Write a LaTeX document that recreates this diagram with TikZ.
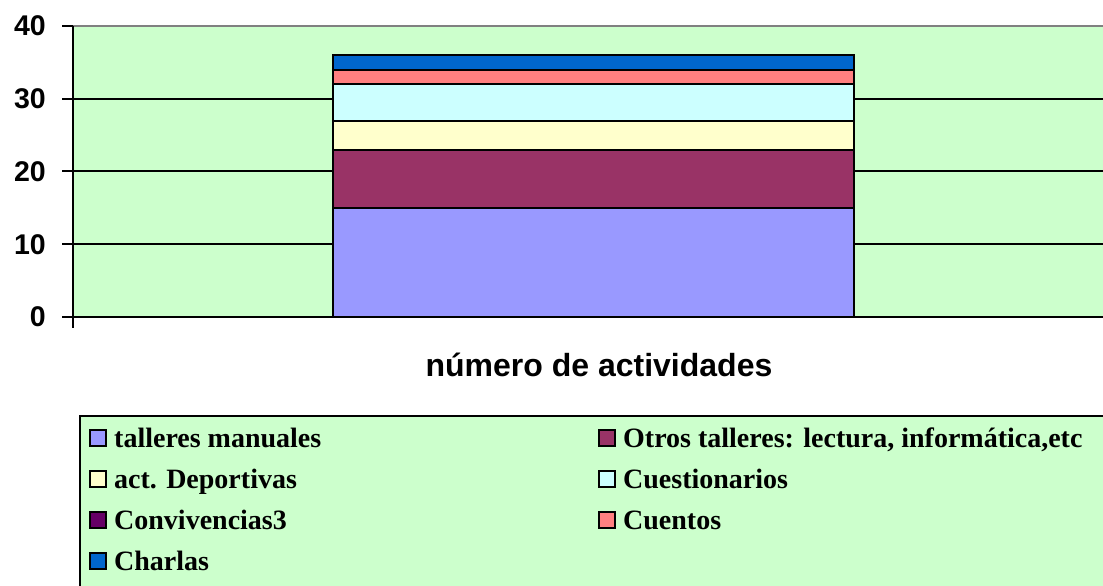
\documentclass[tikz,border=0pt]{standalone}
\usepackage{fontspec}
\setmainfont{Liberation Serif}
\newfontfamily\axisfont{Liberation Sans}
\definecolor{plotgreen}{HTML}{CCFFCC}
\definecolor{cTaller}{HTML}{9999FF}
\definecolor{cOtros}{HTML}{993366}
\definecolor{cDep}{HTML}{FFFFCC}
\definecolor{cCuest}{HTML}{CCFFFF}
\definecolor{cConv}{HTML}{660066}
\definecolor{cCuent}{HTML}{FF8080}
\definecolor{cCharl}{HTML}{0066CC}
\tikzset{
  seg/.style={draw=black,line width=2pt},
  grid line/.style={draw=black,line width=2pt},
  ylab/.style={font=\axisfont\bfseries\fontsize{28.5}{28.5}\selectfont,anchor=east,inner sep=0pt},
  legsq/.style={draw=black,line width=2pt,minimum width=16pt,minimum height=16pt,inner sep=0pt,anchor=south west},
  legtxt/.style={font=\bfseries\fontsize{28}{28}\selectfont,anchor=base west,inner sep=0pt},
}
\begin{document}
\begin{tikzpicture}[x=1pt,y=1pt]
\useasboundingbox (0,0) rectangle (1103,586);
\clip (0,0) rectangle (1103,586);
\fill[white] (0,0) rectangle (1103,586);
% plot area
\fill[plotgreen] (73,269) rectangle (1110,560);
\draw[gray,line width=2pt] (73,560) -- (1110,560);
\begin{scope}[yshift=269pt,y=7.275pt]
  \foreach \v in {10,20,30} \draw[grid line] (73,\v) -- (1110,\v);
  \draw[grid line] (73,0) -- (1110,0);
  % bar
  \filldraw[seg,fill=cTaller] (333,0) rectangle (854,15);
  \filldraw[seg,fill=cOtros] (333,15) rectangle (854,23);
  \filldraw[seg,fill=cDep] (333,23) rectangle (854,27);
  \filldraw[seg,fill=cCuest] (333,27) rectangle (854,32);
  \filldraw[seg,fill=cCuent] (333,32) rectangle (854,34);
  \filldraw[seg,fill=cCharl] (333,34) rectangle (854,36);
  % axis
  \draw[black,line width=2pt] (73,40) -- (73,-1.5);
  \foreach \v in {0,10,20,30,40} {
    \draw[black,line width=2pt] (62,\v) -- (73,\v);
    \node[ylab] (y\v) at (46,\v) {\v};
  }
\end{scope}
% title
\node[font=\axisfont\bfseries\fontsize{32}{32}\selectfont,anchor=base,inner sep=0pt] (title) at (599,209) {número de actividades};
% legend
\filldraw[draw=black,line width=2pt,fill=plotgreen] (80,-5) rectangle (1110,170);
\node[legsq,fill=cTaller] (s1) at (89,139) {};
\node[legtxt] (t1) at (114,138) {talleres manuales};
\node[legsq,fill=cDep] (s3) at (89,98) {};
\node[legtxt] (t3) at (114,97) {act. Deportivas};
\node[legsq,fill=cConv] (s5) at (89,57) {};
\node[legtxt] (t5) at (114,56) {Convivencias3};
\node[legsq,fill=cCharl] (s7) at (89,16) {};
\node[legtxt] (t7) at (114,15) {Charlas};
\node[legsq,fill=cOtros] (s2) at (598,139) {};
\node[legtxt] (t2) at (623,138) {Otros talleres: lectura, informática,etc};
\node[legsq,fill=cCuest] (s4) at (598,98) {};
\node[legtxt] (t4) at (623,97) {Cuestionarios};
\node[legsq,fill=cCuent] (s6) at (598,57) {};
\node[legtxt] (t6) at (623,56) {Cuentos};
\end{tikzpicture}
\end{document}
